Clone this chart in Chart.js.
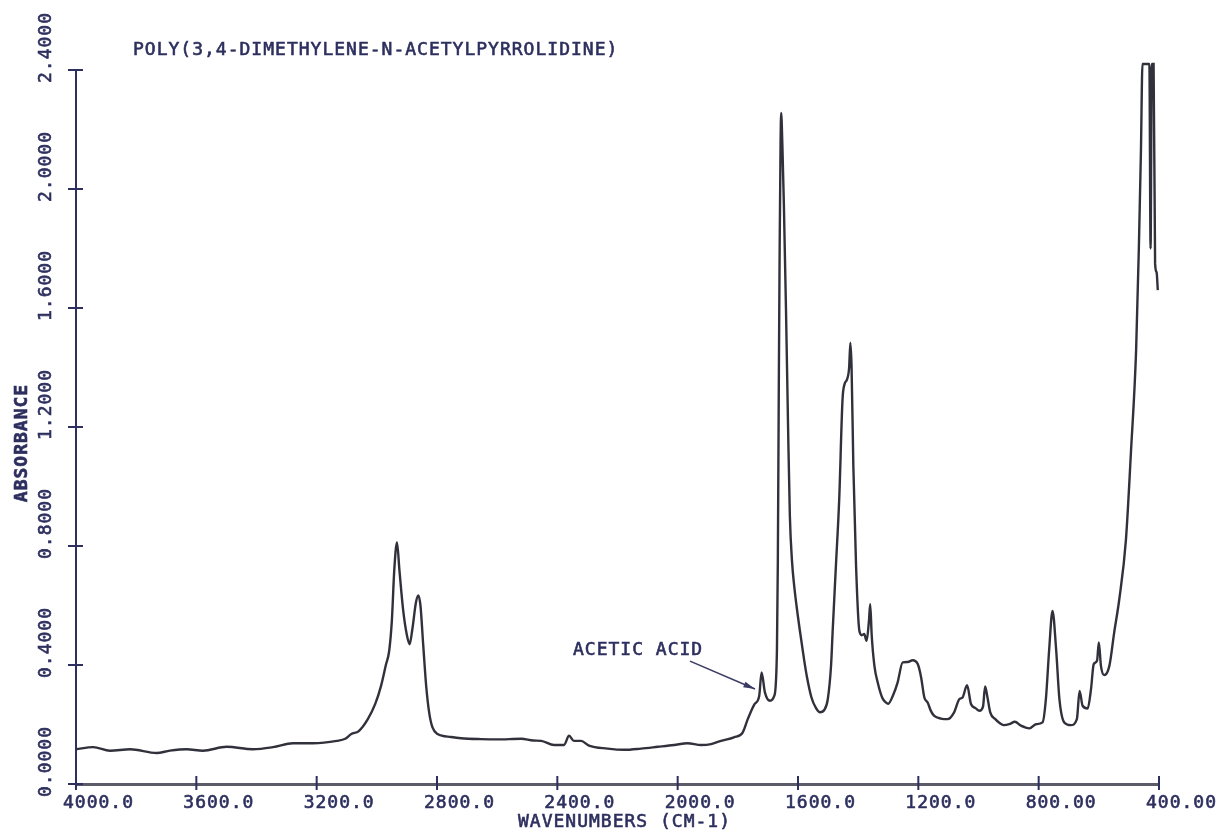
<!DOCTYPE html>
<html>
<head>
<meta charset="utf-8">
<script src="https://cdn.jsdelivr.net/npm/chart.js@4.4.1/dist/chart.umd.min.js"></script>
<style>
  html, body { margin: 0; padding: 0; background: #fff; }
  canvas { display: block; }
</style>
</head>
<body>
<canvas id="spectrum" width="1219" height="831"></canvas>
<script>
// spectrum, high wavenumber first
const wavenumbers = [
    4000, 3943, 3887, 3820, 3732, 3688, 3632, 3578, 3499, 3412, 3345, 3279, 3212, 3133, 3105, 3085,
    3060, 3030, 3005, 2986, 2970, 2959, 2950, 2942, 2933, 2925, 2912, 2900, 2891, 2882, 2870, 2862,
    2855, 2846, 2836, 2826, 2815, 2798, 2753, 2720, 2654, 2600, 2520, 2480, 2454, 2411, 2378, 2361,
    2345, 2321, 2295, 2233, 2178, 2122, 2066, 2012, 1967, 1922, 1889, 1856, 1813, 1784, 1767, 1745,
    1729, 1721, 1710, 1693, 1679, 1670, 1667, 1664, 1661, 1658, 1656, 1652, 1647, 1640, 1633, 1627,
    1620, 1612, 1605, 1593, 1580, 1571, 1555, 1540, 1527, 1512, 1501, 1490, 1485, 1474, 1463, 1452,
    1445, 1437, 1430, 1426, 1422, 1416, 1407, 1396, 1388, 1380, 1372, 1364, 1360, 1355, 1346, 1335,
    1320, 1308, 1300, 1285, 1269, 1252, 1235, 1219, 1202, 1191, 1180, 1169, 1158, 1147, 1125, 1103,
    1081, 1064, 1053, 1038, 1025, 1010, 997, 985, 978, 970, 961, 944, 930, 916, 898, 879,
    859, 831, 809, 787, 776, 765, 754, 742, 731, 715, 693, 673, 664, 654, 637, 626,
    617, 606, 600, 593, 582, 565, 549, 532, 510, 493, 476, 467, 460, 455, 432, 428,
    424, 418, 413, 408, 404
];
const absorbance = [
    0.117, 0.124, 0.112, 0.117, 0.104, 0.112, 0.117, 0.112, 0.125, 0.117, 0.124, 0.137, 0.137, 0.145, 0.152, 0.168,
    0.178, 0.218, 0.27, 0.33, 0.40, 0.447, 0.55, 0.72, 0.812, 0.72, 0.58, 0.50, 0.47, 0.52, 0.61, 0.634,
    0.60, 0.47, 0.33, 0.24, 0.19, 0.168, 0.158, 0.154, 0.151, 0.150, 0.152, 0.146, 0.145, 0.131, 0.131, 0.162,
    0.145, 0.145, 0.129, 0.119, 0.115, 0.119, 0.125, 0.131, 0.137, 0.131, 0.134, 0.145, 0.157, 0.173, 0.218, 0.268,
    0.296, 0.375, 0.308, 0.28, 0.296, 0.45, 0.75, 1.3, 1.8, 2.15, 2.256, 2.15, 1.95, 1.6, 1.2, 0.9,
    0.75, 0.66, 0.6, 0.51, 0.42, 0.364, 0.29, 0.255, 0.241, 0.25, 0.285, 0.40, 0.509, 0.733, 0.957, 1.292,
    1.345, 1.36, 1.40, 1.483, 1.404, 1.068, 0.733, 0.515, 0.50, 0.504, 0.481, 0.55, 0.604, 0.50, 0.397, 0.341,
    0.29, 0.274, 0.27, 0.296, 0.341, 0.409, 0.41, 0.416, 0.403, 0.36, 0.291, 0.274, 0.245, 0.229, 0.22, 0.218,
    0.241, 0.285, 0.291, 0.332, 0.269, 0.255, 0.246, 0.26, 0.328, 0.29, 0.241, 0.218, 0.205, 0.198, 0.201, 0.209,
    0.196, 0.187, 0.201, 0.207, 0.285, 0.453, 0.582, 0.453, 0.285, 0.207, 0.198, 0.218, 0.313, 0.263, 0.254, 0.319,
    0.403, 0.414, 0.476, 0.397, 0.366, 0.397, 0.509, 0.621, 0.82, 1.12, 1.46, 1.80, 2.13, 2.42, 2.42, 1.80,
    2.42, 2.42, 1.75, 1.72, 1.66
];

const xTicks = [4000, 3600, 3200, 2800, 2400, 2000, 1600, 1200, 800, 400];
const xTickLabels = ['4000.0', '3600.0', '3200.0', '2800.0', '2400.0', '2000.0', '1600.0', '1200.0', '800.00', '400.00'];
const yTicks = [0, 0.4, 0.8, 1.2, 1.6, 2.0, 2.4];
const yTickLabels = ['0.0000', '0.4000', '0.8000', '1.2000', '1.6000', '2.0000', '2.4000'];

const chartTitle = 'POLY(3,4-DIMETHYLENE-N-ACETYLPYRROLIDINE)';
const xTitle = 'WAVENUMBERS (CM-1)';
const yTitle = 'ABSORBANCE';
// label and arrow, in wavenumber / absorbance units
const noteText = 'ACETIC ACID';
const noteAt = [2348, 0.457];
const arrowFrom = [1959, 0.413];
const arrowTo = [1743, 0.319];

const INK = '#2d2f5e';
const FONT = '18px "DejaVu Sans Mono", monospace';

function setFont(ctx, bold) {
    ctx.font = (bold ? 'bold ' : '') + FONT;
    ctx.letterSpacing = '1px';
    ctx.fillStyle = INK;
    ctx.strokeStyle = INK;
    ctx.lineWidth = 0.6;
    ctx.textAlign = 'left';
    ctx.textBaseline = 'alphabetic';
}

function plotText(ctx, str, x, y, angle, bold) {
    ctx.save();
    ctx.translate(x, y);
    if (angle) ctx.rotate(angle);
    setFont(ctx, bold);
    ctx.fillText(str, 0, 0);
    ctx.strokeText(str, 0, 0); // pen strokes are a bit heavier than the font
    ctx.restore();
}

function textWidth(ctx, str, bold) {
    ctx.save();
    setFont(ctx, bold);
    const w = ctx.measureText(str).width;
    ctx.restore();
    return w;
}

// pen-plotter style ticks, labels and notes
const plotterDecor = {
    id: 'plotterDecor',
    afterDraw(chart) {
        const { ctx, chartArea, scales: { x, y } } = chart;
        ctx.save();
        ctx.strokeStyle = INK;
        ctx.lineWidth = 2;
        ctx.beginPath();
        xTicks.forEach(v => {
            const px = x.getPixelForValue(v);
            ctx.moveTo(px, chartArea.bottom - 8);
            ctx.lineTo(px, chartArea.bottom + 6);
        });
        yTicks.forEach(v => {
            const py = y.getPixelForValue(v);
            ctx.moveTo(chartArea.left - 8, py);
            ctx.lineTo(chartArea.left + 7, py);
        });
        ctx.stroke();

        xTicks.forEach((v, i) => {
            plotText(ctx, xTickLabels[i], x.getPixelForValue(v) - 13, 808);
        });
        yTicks.forEach((v, i) => {
            plotText(ctx, yTickLabels[i], 50.5, y.getPixelForValue(v) + 13, -Math.PI / 2);
        });

        plotText(ctx, chartTitle, 133, 54.5);
        const wx = textWidth(ctx, xTitle);
        plotText(ctx, xTitle, (chartArea.left + chartArea.right) / 2 + 7 - wx / 2, 826.5);
        const wy = textWidth(ctx, yTitle, true);
        plotText(ctx, yTitle, 27, 443 + wy / 2, -Math.PI / 2, true);

        // acetic acid note
        plotText(ctx, noteText, x.getPixelForValue(noteAt[0]), y.getPixelForValue(noteAt[1]) + 6.5);
        const x0 = x.getPixelForValue(arrowFrom[0]), y0 = y.getPixelForValue(arrowFrom[1]);
        const x1 = x.getPixelForValue(arrowTo[0]), y1 = y.getPixelForValue(arrowTo[1]);
        const ang = Math.atan2(y1 - y0, x1 - x0);
        ctx.strokeStyle = '#3a3c66';
        ctx.lineWidth = 1.6;
        ctx.beginPath();
        ctx.moveTo(x0, y0);
        ctx.lineTo(x1, y1);
        ctx.stroke();
        ctx.fillStyle = '#3a3c66';
        ctx.beginPath();
        ctx.moveTo(x1, y1);
        ctx.lineTo(x1 - 12 * Math.cos(ang - 0.25), y1 - 12 * Math.sin(ang - 0.25));
        ctx.lineTo(x1 - 12 * Math.cos(ang + 0.25), y1 - 12 * Math.sin(ang + 0.25));
        ctx.closePath();
        ctx.fill();
        ctx.restore();
    }
};

const points = wavenumbers.map((w, i) => ({ x: w, y: absorbance[i] }));

new Chart(document.getElementById('spectrum'), {
    type: 'line',
    data: {
        datasets: [{
            data: points,
            borderColor: '#31313c',
            borderWidth: 2.4,
            pointRadius: 0,
            cubicInterpolationMode: 'monotone',
            clip: false
        }]
    },
    options: {
        responsive: false,
        animation: false,
        layout: { padding: { top: 70, right: 60, left: 0, bottom: 0 } },
        plugins: {
            legend: { display: false },
            tooltip: { enabled: false },
            title: { display: false }
        },
        scales: {
            x: {
                type: 'linear',
                reverse: true,
                min: 400,
                max: 4000,
                afterFit: s => { s.height = 47; },
                ticks: { display: false, stepSize: 400 },
                grid: { display: false, drawTicks: false },
                border: { display: true, color: '#5c5c68', width: 3 }
            },
            y: {
                min: 0,
                max: 2.4,
                afterFit: s => { s.width = 76; },
                ticks: { display: false, stepSize: 0.4 },
                grid: { display: false, drawTicks: false },
                border: { display: true, color: INK, width: 2 }
            }
        }
    },
    plugins: [plotterDecor]
});
</script>
</body>
</html>
